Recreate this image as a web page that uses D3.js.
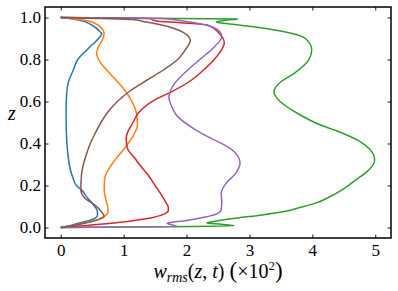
<!DOCTYPE html>
<html>
<head>
<meta charset="utf-8">
<script src="https://cdn.jsdelivr.net/npm/d3@7"></script>
<style>
  body { margin: 0; background: #fff; }
  svg text { font-family: "Liberation Serif", "DejaVu Serif", serif; }
</style>
</head>
<body>
<div id="chart"></div>
<script>
// wall-normal profiles, each series keeps its own z samples
const zBlue = [0, 0.01, 0.02, 0.037, 0.06, 0.08, 0.1, 0.147, 0.18, 0.2, 0.24, 0.28, 0.36, 0.45, 0.55, 0.64, 0.7, 0.75, 0.8, 0.85, 0.9, 0.92, 0.94, 0.963, 0.987, 0.997, 1.0];
const wBlue = [0, 0.16, 0.28, 0.49, 0.585, 0.58, 0.54, 0.41, 0.33, 0.25, 0.19, 0.15, 0.11, 0.09, 0.085, 0.095, 0.13, 0.2, 0.27, 0.43, 0.6, 0.65, 0.6, 0.5, 0.3, 0.08, 0];

const zOrange = [0, 0.01, 0.025, 0.04, 0.055, 0.07, 0.09, 0.13, 0.18, 0.235, 0.3, 0.38, 0.44, 0.49, 0.55, 0.6, 0.65, 0.7, 0.75, 0.8, 0.83, 0.86, 0.885, 0.925, 0.945, 0.963, 0.987, 0.997, 1.0];
const wOrange = [0, 0.2, 0.42, 0.6, 0.7, 0.75, 0.75, 0.72, 0.69, 0.7, 0.81, 1.02, 1.16, 1.22, 1.2, 1.13, 1.03, 0.886, 0.73, 0.6, 0.57, 0.6, 0.65, 0.69, 0.66, 0.6, 0.38, 0.08, 0];

const zGreen = [0, 0.003, 0.008, 0.015, 0.022, 0.03, 0.045, 0.06, 0.076, 0.095, 0.116, 0.15, 0.195, 0.235, 0.259, 0.322, 0.37, 0.409, 0.464, 0.488, 0.544, 0.615, 0.646, 0.694, 0.734, 0.797, 0.845, 0.9, 0.924, 0.948, 0.968, 0.979, 0.986, 0.993, 1.0];
const wGreen = [0, 1.5, 2.76, 2.55, 2.32, 2.45, 2.8, 3.2, 3.55, 3.8, 4.05, 4.3, 4.55, 4.73, 4.84, 4.99, 4.92, 4.76, 4.35, 4.13, 3.76, 3.44, 3.39, 3.5, 3.71, 3.94, 3.99, 3.89, 3.68, 3.26, 2.73, 2.47, 2.6, 2.81, 0];

const zRed = [0, 0.01, 0.02, 0.04, 0.065, 0.08, 0.095, 0.12, 0.155, 0.2, 0.25, 0.3, 0.33, 0.377, 0.425, 0.464, 0.5, 0.544, 0.607, 0.646, 0.7, 0.75, 0.8, 0.83, 0.88, 0.924, 0.963, 0.975, 0.983, 0.99, 0.995, 1.0];
const wRed = [0, 0.42, 0.81, 1.33, 1.65, 1.71, 1.71, 1.67, 1.6, 1.5, 1.39, 1.25, 1.18, 1.06, 1.04, 1.08, 1.15, 1.23, 1.49, 1.76, 2.07, 2.27, 2.44, 2.52, 2.6, 2.52, 2.34, 1.9, 1.52, 1.45, 1.42, 0];

const zPurple = [0, 0.002, 0.006, 0.012, 0.02, 0.033, 0.05, 0.065, 0.084, 0.124, 0.163, 0.211, 0.258, 0.306, 0.354, 0.393, 0.417, 0.464, 0.528, 0.591, 0.615, 0.686, 0.75, 0.797, 0.86, 0.908, 0.936, 0.955, 0.971, 0.987, 0.995, 1.0];
const wPurple = [0, 1.0, 1.85, 1.78, 1.69, 2.0, 2.3, 2.48, 2.55, 2.56, 2.55, 2.63, 2.78, 2.85, 2.78, 2.6, 2.44, 2.15, 1.86, 1.745, 1.72, 1.81, 2.02, 2.2, 2.44, 2.56, 2.52, 2.41, 2.2, 1.86, 1.6, 0];

const zBrown = [0, 0.01, 0.02, 0.035, 0.052, 0.07, 0.108, 0.14, 0.18, 0.25, 0.3, 0.35, 0.4, 0.45, 0.5, 0.55, 0.6, 0.65, 0.7, 0.75, 0.8, 0.85, 0.89, 0.93, 0.963, 0.98, 0.99, 1.0];
const wBrown = [0, 0.2, 0.38, 0.58, 0.69, 0.66, 0.54, 0.38, 0.32, 0.33, 0.36, 0.41, 0.47, 0.55, 0.64, 0.75, 0.9, 1.1, 1.36, 1.63, 1.86, 1.99, 2.06, 1.94, 1.62, 1.33, 1.14, 0];

const xTicks = [0, 1, 2, 3, 4, 5];
const yTicks = [0, 0.2, 0.4, 0.6, 0.8, 1.0];

const series = [
  { z: zBlue, w: wBlue, color: "#1f77b4" },
  { z: zOrange, w: wOrange, color: "#ff7f0e" },
  { z: zGreen, w: wGreen, color: "#2ca02c" },
  { z: zRed, w: wRed, color: "#d62728" },
  { z: zPurple, w: wPurple, color: "#9467bd" },
  { z: zBrown, w: wBrown, color: "#8c564b" }
];

const W = 398, H = 291;
const mLeft = 45, mRight = 391, mTop = 7, mBottom = 238;
const serif = "Liberation Serif, DejaVu Serif, serif";

const svg = d3.select("#chart").append("svg")
  .attr("width", W)
  .attr("height", H);

const x = d3.scaleLinear().domain([-0.25, 5.25]).range([mLeft, mRight]);
const y = d3.scaleLinear().domain([-0.05, 1.05]).range([mBottom, mTop]);

// curves
const line = d3.line()
  .x(d => x(d[0]))
  .y(d => y(d[1]))
  .curve(d3.curveMonotoneY);

const plot = svg.append("g");
plot.append("clipPath").attr("id", "clip")
  .append("rect").attr("x", mLeft).attr("y", mTop).attr("width", mRight - mLeft).attr("height", mBottom - mTop);

series.forEach(s => {
  const pts = s.w.map((v, i) => [v, s.z[i]]);
  plot.append("path")
    .datum(pts)
    .attr("clip-path", "url(#clip)")
    .attr("d", line)
    .style("fill", "none")
    .style("stroke", s.color)
    .style("stroke-width", 1.5)
    .style("stroke-linejoin", "round");
});

// axes, ticks pointing inward on all four sides
const tickLen = 3.5;
const fmt = d3.format(".1f");

svg.append("g")
  .attr("transform", `translate(0,${mBottom})`)
  .call(d3.axisBottom(x).tickValues(xTicks).tickSizeInner(-tickLen).tickSizeOuter(0).tickPadding(6).tickFormat(d3.format("d")))
  .attr("font-family", serif)
  .attr("font-size", 17)
  .call(g => g.select(".domain").remove())
  .call(g => g.selectAll("text").attr("fill", "#000"));

svg.append("g")
  .attr("transform", `translate(0,${mTop})`)
  .call(d3.axisTop(x).tickValues(xTicks).tickSizeInner(-tickLen).tickSizeOuter(0).tickFormat(""))
  .call(g => g.select(".domain").remove());

svg.append("g")
  .attr("transform", `translate(${mLeft},0)`)
  .call(d3.axisLeft(y).tickValues(yTicks).tickSizeInner(-tickLen).tickSizeOuter(0).tickPadding(4).tickFormat(fmt))
  .attr("font-family", serif)
  .attr("font-size", 17)
  .call(g => g.select(".domain").remove())
  .call(g => g.selectAll("text").attr("fill", "#000"));

svg.append("g")
  .attr("transform", `translate(${mRight},0)`)
  .call(d3.axisRight(y).tickValues(yTicks).tickSizeInner(-tickLen).tickSizeOuter(0).tickFormat(""))
  .call(g => g.select(".domain").remove());

svg.selectAll(".tick line").attr("stroke", "#000").attr("stroke-width", 0.9);

svg.append("rect")
  .attr("x", mLeft).attr("y", mTop)
  .attr("width", mRight - mLeft).attr("height", mBottom - mTop)
  .style("fill", "none")
  .style("stroke", "#000")
  .style("stroke-width", 1.5);

// axis labels
const xl = svg.append("text")
  .attr("x", (mLeft + mRight) / 2)
  .attr("y", 278)
  .attr("text-anchor", "middle")
  .attr("font-family", serif)
  .style("font-size", "20px");
xl.append("tspan").style("font-style", "italic").text("w");
xl.append("tspan").style("font-style", "italic").style("font-size", "14px").attr("dy", 4).text("rms");
xl.append("tspan").attr("dy", -4).text("(");
xl.append("tspan").style("font-style", "italic").text("z");
xl.append("tspan").text(", ");
xl.append("tspan").style("font-style", "italic").text("t");
xl.append("tspan").text(") ");
xl.append("tspan").style("font-size", "23px").text("(");
xl.append("tspan").text("×10");
xl.append("tspan").style("font-size", "13px").attr("dy", -8).text("2");
xl.append("tspan").style("font-size", "23px").attr("dy", 8).text(")");

svg.append("text")
  .attr("x", 12)
  .attr("y", 120)
  .attr("text-anchor", "middle")
  .attr("font-family", serif)
  .style("font-size", "20px")
  .style("font-style", "italic")
  .text("z");
</script>
</body>
</html>
